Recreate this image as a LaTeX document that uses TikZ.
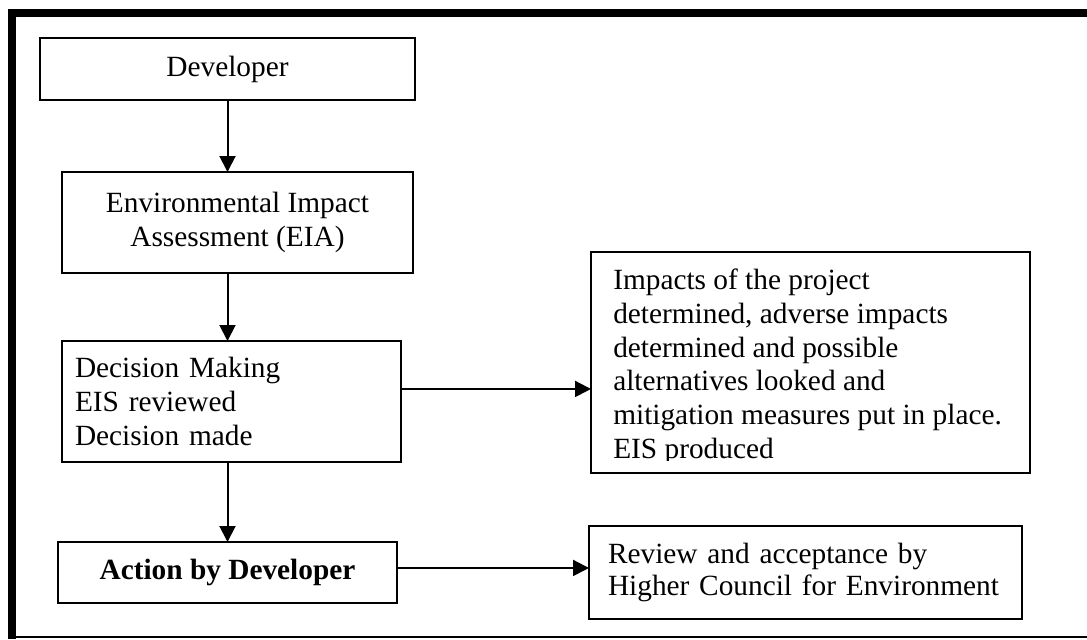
\documentclass[tikz,border=0pt]{standalone}
\usepackage{fontspec}
\setmainfont{Liberation Serif}
\usetikzlibrary{arrows.meta}
\begin{document}
\begin{tikzpicture}[x=0.75pt,y=-0.75pt,
  box/.style={draw, line width=1.5pt, outer sep=0pt, inner sep=0pt},
  arr/.style={line width=1.5pt, -{Triangle[length=12pt,width=12pt]}},
  txt/.style={font=\fontsize{22}{25.3}\selectfont}]
\useasboundingbox (0,0) rectangle (1087,639);

% page frame: heavy rule on the left and top, thin rule at the bottom
\draw[line width=6pt, line join=miter] (12,639) -- (12,13) -- (1087,13);
\draw[line width=1.5pt] (12,637) -- (1087,637);

% flow boxes
\node[box, txt, minimum width=281.25pt, minimum height=46.5pt] (dev) at (227.5,69) {Developer};
\node[box, txt, font=\fontsize{22}{26}\selectfont, align=center,
      minimum width=263.25pt, minimum height=75.75pt] (eia) at (237.5,222.5)
      {Environmental Impact\\Assessment (EIA)};
\node[box, txt, align=left, text width=234.75pt,
      minimum width=254.25pt, minimum height=90.75pt] (dec) at (231.5,401.5)
      {Decision Making\\EIS reviewed\\Decision made};
\node[box, txt, font=\fontsize{22}{25}\selectfont\bfseries,
      minimum width=254.25pt, minimum height=45.75pt] (act) at (227.5,572.5)
      {Action by Developer};
\node[box, minimum width=329.25pt, minimum height=165.75pt] (imp) at (810.5,362.5) {};
\node[box, txt, font=\fontsize{22}{24}\selectfont, align=left, text width=296.25pt,
      minimum width=324.75pt, minimum height=69.75pt] (rev) at (805.5,572.5)
      {Review and acceptance by\\Higher Council for Environment};

% text of the impacts box, cut off just above its lower edge
\begin{scope}
  \clip (imp.north west) rectangle ([yshift=9.75pt]imp.south east);
  \node[txt, align=left, inner sep=0pt, anchor=north west] (imptext)
    at ([xshift=16.5pt,yshift=-12.5pt]imp.north west)
    {Impacts of the project\\determined, adverse impacts\\determined and possible\\alternatives looked and\\mitigation measures put in place.\\EIS produced};
\end{scope}

% connectors
\draw[arr] (dev.south) -- (dev.south |- eia.north);
\draw[arr] (eia.south -| dev.south) -- (dec.north -| dev.south);
\draw[arr] (dec.south -| dev.south) -- (act.north -| dev.south);
\draw[arr] ([yshift=9.4pt]dec.east) -- ([yshift=9.4pt]dec.east -| imp.west);
\draw[arr] ([yshift=3.4pt]act.east) -- ([yshift=3.4pt]act.east -| rev.west);
\end{tikzpicture}
\end{document}
